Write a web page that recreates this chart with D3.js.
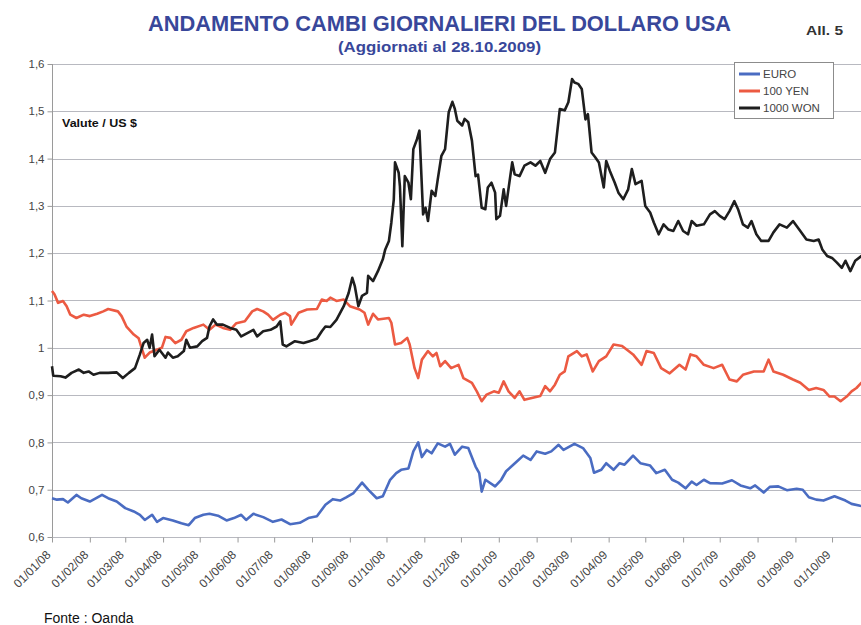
<!DOCTYPE html>
<html><head><meta charset="utf-8">
<script src="https://cdn.jsdelivr.net/npm/d3@7"></script>
<style>body{margin:0;background:#fff}svg{display:block}</style>
</head><body>
<svg id="c" width="861" height="625"></svg>
<script>
const seriesNames = ["EURO", "100 YEN", "1000 WON"];
const seriesColors = ["#4a6cc2", "#ec5a42", "#1e1e1e"];
const yTicks = [0.6, 0.7, 0.8, 0.9, 1.0, 1.1, 1.2, 1.3, 1.4, 1.5, 1.6];
const yTickLabels = ["0,6", "0,7", "0,8", "0,9", "1", "1,1", "1,2", "1,3", "1,4", "1,5", "1,6"];
const xStart = "2008-01-01", xEnd = "2009-10-28";

const euro = [
["2008-01-01",0.682],["2008-01-05",0.679],["2008-01-10",0.68],["2008-01-14",0.673],["2008-01-21",0.689],["2008-01-25",0.682],
["2008-02-01",0.675],["2008-02-11",0.689],["2008-02-16",0.682],["2008-02-23",0.675],["2008-03-01",0.661],["2008-03-08",0.654],
["2008-03-13",0.647],["2008-03-17",0.636],["2008-03-23",0.647],["2008-03-27",0.632],["2008-04-01",0.64],["2008-04-09",0.635],
["2008-04-16",0.629],["2008-04-22",0.625],["2008-04-27",0.64],["2008-05-04",0.647],["2008-05-09",0.649],["2008-05-16",0.645],
["2008-05-23",0.635],["2008-05-29",0.64],["2008-06-04",0.647],["2008-06-08",0.636],["2008-06-14",0.649],["2008-06-22",0.642],
["2008-06-30",0.632],["2008-07-07",0.637],["2008-07-14",0.627],["2008-07-22",0.63],["2008-07-29",0.64],["2008-08-05",0.644],
["2008-08-12",0.668],["2008-08-18",0.68],["2008-08-24",0.677],["2008-08-29",0.684],["2008-09-04",0.693],["2008-09-11",0.715],
["2008-09-16",0.70],["2008-09-23",0.682],["2008-09-28",0.686],["2008-10-04",0.721],["2008-10-09",0.735],["2008-10-13",0.742],
["2008-10-19",0.745],["2008-10-23",0.781],["2008-10-27",0.80],["2008-10-30",0.769],["2008-11-03",0.784],["2008-11-07",0.777],
["2008-11-12",0.798],["2008-11-18",0.791],["2008-11-22",0.797],["2008-11-26",0.774],["2008-12-02",0.791],["2008-12-07",0.788],
["2008-12-13",0.749],["2008-12-16",0.735],["2008-12-18",0.696],["2008-12-21",0.721],["2008-12-29",0.707],["2009-01-03",0.721],
["2009-01-07",0.739],["2009-01-16",0.76],["2009-01-21",0.772],["2009-01-27",0.763],["2009-02-01",0.781],["2009-02-08",0.776],
["2009-02-13",0.781],["2009-02-19",0.795],["2009-02-23",0.784],["2009-03-04",0.797],["2009-03-11",0.788],["2009-03-17",0.767],
["2009-03-20",0.736],["2009-03-26",0.742],["2009-03-30",0.756],["2009-04-05",0.742],["2009-04-10",0.756],["2009-04-14",0.753],
["2009-04-21",0.772],["2009-04-27",0.756],["2009-05-05",0.751],["2009-05-10",0.735],["2009-05-17",0.742],["2009-05-23",0.721],
["2009-05-28",0.715],["2009-06-03",0.703],["2009-06-08",0.717],["2009-06-12",0.71],["2009-06-18",0.721],["2009-06-23",0.714],
["2009-07-03",0.713],["2009-07-11",0.72],["2009-07-18",0.709],["2009-07-26",0.703],["2009-07-30",0.709],["2009-08-06",0.694],
["2009-08-11",0.706],["2009-08-18",0.707],["2009-08-25",0.699],["2009-09-02",0.702],["2009-09-07",0.70],["2009-09-12",0.684],
["2009-09-18",0.679],["2009-09-24",0.677],["2009-10-03",0.686],["2009-10-12",0.677],["2009-10-17",0.670],["2009-10-24",0.666],
["2009-10-28",0.664]
];

const yen = [
["2008-01-01",1.12],["2008-01-03",1.113],["2008-01-06",1.095],["2008-01-10",1.099],["2008-01-13",1.088],["2008-01-16",1.070],
["2008-01-21",1.063],["2008-01-27",1.07],["2008-02-01",1.067],["2008-02-07",1.072],["2008-02-12",1.077],["2008-02-16",1.082],
["2008-02-24",1.077],["2008-02-27",1.067],["2008-03-02",1.045],["2008-03-08",1.028],["2008-03-12",1.02],["2008-03-14",1.003],
["2008-03-17",0.979],["2008-03-21",0.99],["2008-03-27",0.996],["2008-03-31",1.0],["2008-04-03",1.023],["2008-04-07",1.021],
["2008-04-11",1.01],["2008-04-16",1.017],["2008-04-20",1.035],["2008-04-26",1.042],["2008-05-04",1.049],["2008-05-09",1.038],
["2008-05-14",1.049],["2008-05-20",1.042],["2008-05-26",1.038],["2008-05-31",1.052],["2008-06-07",1.056],["2008-06-13",1.077],
["2008-06-17",1.082],["2008-06-22",1.077],["2008-06-26",1.07],["2008-06-30",1.059],["2008-07-06",1.07],["2008-07-10",1.074],
["2008-07-14",1.067],["2008-07-15",1.049],["2008-07-21",1.074],["2008-07-28",1.081],["2008-08-05",1.082],["2008-08-09",1.102],
["2008-08-13",1.099],["2008-08-16",1.106],["2008-08-21",1.099],["2008-08-27",1.102],["2008-09-01",1.088],["2008-09-09",1.081],
["2008-09-13",1.074],["2008-09-16",1.049],["2008-09-20",1.072],["2008-09-24",1.06],["2008-10-03",1.063],["2008-10-05",1.053],
["2008-10-08",1.007],["2008-10-13",1.01],["2008-10-18",1.021],["2008-10-20",1.007],["2008-10-24",0.957],["2008-10-27",0.936],
["2008-10-30",0.975],["2008-11-04",0.993],["2008-11-08",0.982],["2008-11-11",0.989],["2008-11-14",0.961],["2008-11-18",0.972],
["2008-11-23",0.957],["2008-11-29",0.964],["2008-12-03",0.936],["2008-12-10",0.926],["2008-12-14",0.908],["2008-12-18",0.887],
["2008-12-22",0.901],["2008-12-28",0.908],["2009-01-01",0.905],["2009-01-05",0.929],["2009-01-09",0.908],["2009-01-14",0.894],
["2009-01-18",0.908],["2009-01-22",0.89],["2009-01-28",0.894],["2009-02-04",0.898],["2009-02-08",0.919],["2009-02-12",0.908],
["2009-02-16",0.922],["2009-02-20",0.943],["2009-02-24",0.950],["2009-02-27",0.982],["2009-03-06",0.993],["2009-03-10",0.982],
["2009-03-14",0.986],["2009-03-19",0.95],["2009-03-24",0.972],["2009-03-30",0.982],["2009-04-05",1.007],["2009-04-12",1.004],
["2009-04-16",0.996],["2009-04-21",0.986],["2009-04-28",0.964],["2009-05-02",0.993],["2009-05-08",0.989],["2009-05-14",0.957],
["2009-05-21",0.946],["2009-05-29",0.964],["2009-06-03",0.954],["2009-06-07",0.986],["2009-06-12",0.982],["2009-06-18",0.964],
["2009-06-26",0.957],["2009-07-03",0.964],["2009-07-09",0.933],["2009-07-15",0.929],["2009-07-20",0.943],["2009-07-29",0.950],
["2009-08-06",0.95],["2009-08-10",0.975],["2009-08-14",0.95],["2009-08-22",0.943],["2009-08-30",0.933],["2009-09-05",0.926],
["2009-09-12",0.911],["2009-09-18",0.915],["2009-09-24",0.911],["2009-09-29",0.897],["2009-10-03",0.897],["2009-10-08",0.887],
["2009-10-13",0.897],["2009-10-17",0.908],["2009-10-21",0.915],["2009-10-25",0.926],["2009-10-28",0.928]
];

const won = [
["2008-01-01",0.961],["2008-01-02",0.941],["2008-01-08",0.94],["2008-01-12",0.937],["2008-01-17",0.947],["2008-01-23",0.954],
["2008-01-27",0.947],["2008-01-31",0.95],["2008-02-04",0.943],["2008-02-09",0.947],["2008-02-16",0.947],["2008-02-23",0.948],
["2008-02-28",0.936],["2008-03-04",0.947],["2008-03-09",0.957],["2008-03-13",0.986],["2008-03-16",1.01],["2008-03-19",1.017],
["2008-03-21",1.0],["2008-03-23",1.028],["2008-03-25",0.982],["2008-03-29",0.996],["2008-04-03",0.979],["2008-04-05",0.99],
["2008-04-09",0.979],["2008-04-13",0.982],["2008-04-18",0.993],["2008-04-20",1.017],["2008-04-23",1.0],["2008-04-29",1.003],
["2008-05-03",1.014],["2008-05-07",1.021],["2008-05-09",1.045],["2008-05-12",1.06],["2008-05-15",1.049],["2008-05-20",1.049],
["2008-05-26",1.042],["2008-05-31",1.038],["2008-06-04",1.024],["2008-06-09",1.031],["2008-06-14",1.038],["2008-06-17",1.024],
["2008-06-22",1.035],["2008-06-28",1.038],["2008-07-03",1.045],["2008-07-06",1.056],["2008-07-08",1.007],["2008-07-11",1.003],
["2008-07-18",1.014],["2008-07-25",1.01],["2008-07-30",1.014],["2008-08-05",1.019],["2008-08-09",1.035],["2008-08-12",1.045],
["2008-08-16",1.044],["2008-08-21",1.059],["2008-08-27",1.088],["2008-08-31",1.116],["2008-09-03",1.148],["2008-09-05",1.131],
["2008-09-08",1.088],["2008-09-11",1.11],["2008-09-15",1.116],["2008-09-16",1.152],["2008-09-20",1.141],["2008-09-24",1.162],
["2008-09-28",1.187],["2008-09-30",1.208],["2008-10-03",1.226],["2008-10-05",1.265],["2008-10-07",1.314],["2008-10-08",1.392],
["2008-10-11",1.37],["2008-10-12",1.342],["2008-10-14",1.215],["2008-10-16",1.363],["2008-10-19",1.349],["2008-10-21",1.314],
["2008-10-23",1.42],["2008-10-26",1.441],["2008-10-28",1.459],["2008-10-31",1.282],["2008-11-02",1.296],["2008-11-04",1.268],
["2008-11-07",1.332],["2008-11-10",1.321],["2008-11-12",1.356],["2008-11-15",1.406],["2008-11-18",1.42],["2008-11-21",1.498],
["2008-11-24",1.52],["2008-11-26",1.505],["2008-11-28",1.48],["2008-12-02",1.47],["2008-12-04",1.484],["2008-12-07",1.477],
["2008-12-10",1.438],["2008-12-13",1.363],["2008-12-15",1.366],["2008-12-18",1.296],["2008-12-21",1.293],["2008-12-23",1.339],
["2008-12-26",1.349],["2008-12-29",1.328],["2008-12-30",1.272],["2009-01-02",1.279],["2009-01-05",1.335],["2009-01-07",1.3],
["2009-01-12",1.392],["2009-01-14",1.367],["2009-01-18",1.363],["2009-01-22",1.385],["2009-01-27",1.392],["2009-01-31",1.385],
["2009-02-04",1.395],["2009-02-08",1.37],["2009-02-12",1.399],["2009-02-16",1.413],["2009-02-20",1.505],["2009-02-24",1.502],
["2009-02-27",1.519],["2009-03-02",1.568],["2009-03-04",1.561],["2009-03-07",1.558],["2009-03-10",1.547],["2009-03-13",1.483],
["2009-03-15",1.494],["2009-03-18",1.413],["2009-03-21",1.403],["2009-03-24",1.392],["2009-03-28",1.339],["2009-03-30",1.395],
["2009-04-02",1.374],["2009-04-06",1.349],["2009-04-09",1.328],["2009-04-13",1.314],["2009-04-17",1.335],["2009-04-20",1.378],
["2009-04-23",1.346],["2009-04-28",1.353],["2009-05-01",1.30],["2009-05-05",1.286],["2009-05-08",1.265],["2009-05-12",1.24],
["2009-05-16",1.261],["2009-05-20",1.25],["2009-05-24",1.247],["2009-05-28",1.268],["2009-06-01",1.247],["2009-06-05",1.24],
["2009-06-08",1.268],["2009-06-12",1.258],["2009-06-18",1.261],["2009-06-23",1.282],["2009-06-27",1.289],["2009-07-01",1.279],
["2009-07-05",1.272],["2009-07-09",1.289],["2009-07-13",1.31],["2009-07-16",1.293],["2009-07-20",1.261],["2009-07-24",1.254],
["2009-07-27",1.268],["2009-07-31",1.24],["2009-08-04",1.226],["2009-08-10",1.226],["2009-08-14",1.244],["2009-08-19",1.261],
["2009-08-25",1.254],["2009-08-30",1.268],["2009-09-05",1.247],["2009-09-10",1.229],["2009-09-16",1.226],["2009-09-20",1.229],
["2009-09-23",1.208],["2009-09-27",1.194],["2009-10-01",1.19],["2009-10-05",1.18],["2009-10-09",1.169],["2009-10-12",1.184],
["2009-10-16",1.162],["2009-10-20",1.184],["2009-10-25",1.194],["2009-10-28",1.195]
];

const seriesData = [euro, yen, won];

const parse = d3.timeParse("%Y-%m-%d");
const svg = d3.select("#c");
const mLeft = 52, mRight = 865, mTop = 64, mBottom = 537;

const x = d3.scaleTime().domain([parse(xStart), parse(xEnd)]).range([mLeft, mRight]);
const y = d3.scaleLinear().domain([0.6, 1.6]).range([mBottom, mTop]);

// gridlines
svg.append("g").selectAll("line").data(yTicks).join("line")
  .attr("x1", mLeft).attr("x2", 861)
  .attr("y1", d => Math.round(y(d)) + 0.5).attr("y2", d => Math.round(y(d)) + 0.5)
  .attr("stroke", "#b8b9c0").attr("stroke-width", 1);

// y axis
const yAxis = d3.axisLeft(y).tickValues(yTicks).tickSize(5)
  .tickFormat((d, i) => yTickLabels[i]);
const gy = svg.append("g").attr("transform", `translate(${mLeft + 0.5},0)`).call(yAxis);
gy.select(".domain").attr("stroke", "#9a9a9a").attr("d", `M0,${mTop}V${mBottom}`);
gy.selectAll(".tick line").attr("stroke", "#9a9a9a");
gy.selectAll(".tick text").attr("font-family", "Liberation Sans, Arial, sans-serif")
  .attr("font-size", 11.5).attr("fill", "#444").attr("x", -8);

// x axis
const monthTicks = d3.timeMonth.range(parse("2008-01-01"), parse("2009-10-02"));
const xAxis = d3.axisBottom(x).tickValues(monthTicks).tickSize(5).tickFormat(d3.timeFormat("%d/%m/%y"));
const gx = svg.append("g").attr("transform", `translate(0,${mBottom + 0.5})`).call(xAxis);
gx.select(".domain").remove();
gx.selectAll(".tick line").attr("stroke", "#9a9a9a");
gx.selectAll(".tick text")
  .attr("font-family", "Liberation Sans, Arial, sans-serif")
  .attr("font-size", 12).attr("fill", "#444")
  .attr("text-anchor", "end")
  .attr("transform", "translate(-4,15) rotate(-45)")
  .attr("x", 0).attr("y", 0).attr("dy", "0.35em");

// lines
const line = d3.line().x(d => x(parse(d[0]))).y(d => y(d[1]));
svg.append("g").selectAll("path").data(seriesData).join("path")
  .attr("d", d => line(d))
  .attr("fill", "none")
  .attr("stroke", (d, i) => seriesColors[i])
  .attr("stroke-width", 2.6)
  .attr("stroke-linejoin", "round");

// legend
const lg = svg.append("g");
lg.append("rect").attr("x", 734.5).attr("y", 62.5).attr("width", 99).attr("height", 56)
  .attr("fill", "#fff").attr("stroke", "#8c8c8c");
seriesNames.forEach((n, i) => {
  const yy = 74 + i * 17;
  lg.append("line").attr("x1", 739).attr("x2", 760).attr("y1", yy).attr("y2", yy)
    .attr("stroke", seriesColors[i]).attr("stroke-width", 3);
  lg.append("text").attr("x", 763).attr("y", yy).attr("dy", "0.36em")
    .attr("font-family", "Liberation Sans, Arial, sans-serif").attr("font-size", 11.5)
    .attr("fill", "#444").text(n);
});

// texts
svg.append("text").attr("x", 148).attr("y", 31)
  .attr("font-family", "Liberation Sans Narrow, Arial Narrow, Liberation Sans, sans-serif")
  .attr("font-weight", "bold").attr("font-size", 22).attr("fill", "#38479a")
  .attr("textLength", 583).attr("lengthAdjust", "spacingAndGlyphs")
  .text("ANDAMENTO CAMBI GIORNALIERI DEL DOLLARO USA");
svg.append("text").attr("x", 338).attr("y", 52)
  .attr("font-family", "Liberation Sans Narrow, Arial Narrow, Liberation Sans, sans-serif")
  .attr("font-weight", "bold").attr("font-size", 15).attr("fill", "#38479a")
  .attr("textLength", 203).attr("lengthAdjust", "spacingAndGlyphs")
  .text("(Aggiornati al 28.10.2009)");
svg.append("text").attr("x", 806).attr("y", 35)
  .attr("font-family", "Liberation Sans Narrow, Arial Narrow, Liberation Sans, sans-serif")
  .attr("font-weight", "bold").attr("font-size", 13).attr("fill", "#333")
  .attr("textLength", 37).attr("lengthAdjust", "spacingAndGlyphs")
  .text("All. 5");
svg.append("text").attr("x", 62).attr("y", 127)
  .attr("font-family", "Liberation Sans, Arial, sans-serif")
  .attr("font-weight", "bold").attr("font-size", 10.5).attr("fill", "#111")
  .attr("textLength", 75).attr("lengthAdjust", "spacingAndGlyphs")
  .text("Valute / US $");
svg.append("text").attr("x", 44).attr("y", 623)
  .attr("font-family", "Liberation Sans, Arial, sans-serif")
  .attr("font-size", 14).attr("fill", "#111")
  .text("Fonte : Oanda");
</script>
</body></html>
